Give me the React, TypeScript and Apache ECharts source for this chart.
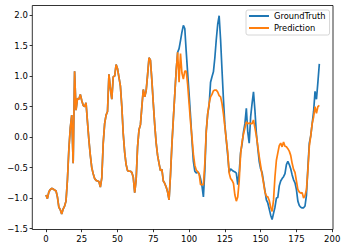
import React, { useEffect, useRef } from "react";
import * as echarts from "echarts";

const prediction: number[] = [
  -0.95, -1.01, -0.9, -0.86, -0.84, -0.85, -0.87, -0.88, -0.98, -1.15,
  -1.19, -1.26, -1.18, -1.13, -1.05, -0.7, -0.2, 0.15, 0.36, -0.43,
  1.08, 0.44, 0.63, 0.62, 0.7, 0.6, 0.52, 0.5, 0.56, 0.25,
  -0.05, -0.3, -0.5, -0.6, -0.68, -0.71, -0.72, -0.73, -0.82, -0.67,
  -0.1, 0.22, 0.36, 0.42, 1.03, 0.8, 0.62, 0.99, 1.0, 1.19,
  1.12, 0.98, 0.84, 0.5, 0.05, -0.25, -0.45, -0.55, -0.56, -0.56,
  -0.58, -0.66, -0.91, -0.7, -0.16, 0.12, 0.2, 0.5, 0.78, 0.66,
  0.76, 1.02, 1.3, 1.26, 0.93, 0.55, 0.2, -0.1, -0.3, -0.43,
  -0.55, -0.53, -0.72, -0.76, -0.82, -0.9, -1.03, -0.62, -0.12, 0.3,
  0.7, 1.1, 1.39, 0.9, 1.37, 1.05, 0.95, 1.08, 1.08, 0.86,
  0.55, 0.25, 0.0, -0.28, -0.46, -0.54, -0.57, -0.6, -0.78, -0.78,
  -0.78, -0.43, 0.1, 0.38, 0.55, 0.66, 0.7, 0.76, 0.77, 0.77,
  0.74, 0.68, 0.66, 0.55, 0.38, 0.17, -0.05, -0.25, -0.59, -0.68,
  -0.71, -0.76, -0.95, -1.05, -0.98, -0.72, -0.28, -0.08, 0.05, 0.15,
  0.25, 0.22, 0.23, 0.22, 0.22, 0.28, 0.15, 0.02, -0.15, -0.32,
  -0.47, -0.62, -0.75, -0.9, -0.97, -0.98, -1.04, -1.15, -1.22, -1.03,
  -0.65, -0.38, -0.26, -0.14, -0.1, -0.16, -0.08, -0.15, -0.16, -0.19,
  -0.23, -0.3, -0.43, -0.53, -0.58, -0.72, -0.86, -0.9, -0.92, -0.91,
  -1.0, -0.96, -0.86, -0.55, -0.15, 0.02, 0.22, 0.33, 0.5, 0.39,
  0.5, 0.52,
];

const groundTruthTail: number[] = [
  1.45, 1.58, 1.72, 1.83, 1.78, 1.4, 1.05, 0.71, 0.35, -0.05,
  -0.4, -0.56, -0.59, -0.57, -0.6, -0.68, -0.8, -0.98, -0.55, 0.1,
  0.38, 0.52, 0.9, 0.99, 1.07, 1.3, 1.6, 1.85, 1.99, 1.6,
  1.1, 0.62, 0.2, -0.05, -0.3, -0.58, -0.52, -0.54, -0.56, -0.57,
  -0.59, -0.78, -0.58, -0.25, -0.12, 0.08, 0.22, 0.47, 0.08, -0.1,
  0.33, 0.55, 0.74, 0.44, 0.06, -0.18, -0.4, -0.52, -0.58, -0.73,
  -0.88, -1.03, -1.08, -1.18, -1.28, -1.35, -1.25, -1.15, -1.0, -0.99,
  -0.8, -0.72, -0.68, -0.65, -0.6, -0.45, -0.4, -0.45, -0.52, -0.62,
  -0.7, -0.75, -0.86, -1.05, -1.12, -1.15, -1.16, -1.16, -1.13, -0.95,
  -0.5, -0.1, 0.02, 0.22, 0.42, 0.75, 0.62, 0.9, 1.2,
];

// Ground truth overlaps the prediction exactly for the first 93 steps
const groundTruth: number[] = [...prediction.slice(0, 93), ...groundTruthTail];

const xTicks: number[] = [0, 25, 50, 75, 100, 125, 150, 175, 200];
const yTicks: number[] = [-1.5, -1.0, -0.5, 0.0, 0.5, 1.0, 1.5, 2.0];

export default function App() {
  const ref = useRef<HTMLDivElement>(null);
  useEffect(() => {
    if (!ref.current) return;
    const chart = echarts.init(ref.current, undefined, { renderer: "svg" });
    const font = "DejaVu Sans";
    chart.setOption({
      animation: false,
      backgroundColor: "#fff",
      grid: {
        left: 32.3,
        right: 13,
        top: 5.5,
        bottom: 20.5,
        show: true,
        borderColor: "#000",
        borderWidth: 0.8,
        backgroundColor: "transparent",
      },
      legend: {
        left: 246,
        top: 10,
        orient: "vertical",
        itemWidth: 20,
        itemHeight: 9,
        itemGap: 4,
        padding: [2, 4, 3, 2],
        backgroundColor: "rgba(255,255,255,0.8)",
        borderColor: "#cccccc",
        borderWidth: 0.8,
        borderRadius: 2,
        itemStyle: { opacity: 0 },
        textStyle: { fontFamily: font, fontSize: 8.3, color: "#000" },
        data: ["GroundTruth", "Prediction"],
      },
      xAxis: {
        type: "value",
        min: -9.55,
        max: 200.55,
        splitLine: { show: false },
        axisLine: { show: false, onZero: false },
        axisTick: {
          show: true,
          inside: false,
          length: 2.7,
          lineStyle: { color: "#000", width: 0.8 },
          customValues: xTicks,
        },
        axisLabel: {
          customValues: xTicks,
          margin: 4.5,
          fontFamily: font,
          fontSize: 8.5,
          color: "#000",
          formatter: (v: number) => String(Math.round(v)),
        },
      },
      yAxis: {
        type: "value",
        min: -1.515,
        max: 2.157,
        splitLine: { show: false },
        axisLine: { show: false, onZero: false },
        axisTick: {
          show: true,
          inside: false,
          length: 2.7,
          lineStyle: { color: "#000", width: 0.8 },
          customValues: yTicks,
        },
        axisLabel: {
          customValues: yTicks,
          margin: 4.5,
          fontFamily: font,
          fontSize: 8.5,
          color: "#000",
          formatter: (v: number) => v.toFixed(1).replace("-", "\u2212"),
        },
      },
      series: [
        {
          name: "GroundTruth",
          type: "line",
          data: groundTruth.map((v, i) => [i, v]),
          symbol: "none",
          lineStyle: { color: "#1f77b4", width: 1.7 },
          itemStyle: { color: "#1f77b4" },
        },
        {
          name: "Prediction",
          type: "line",
          data: prediction.map((v, i) => [i, v]),
          symbol: "none",
          lineStyle: { color: "#ff7f0e", width: 1.7 },
          itemStyle: { color: "#ff7f0e" },
        },
      ],
    });
    return () => chart.dispose();
  }, []);
  return (
    <div
      ref={ref}
      style={{ position: "fixed", left: 0, top: 0, width: 346, height: 250 }}
    />
  );
}
